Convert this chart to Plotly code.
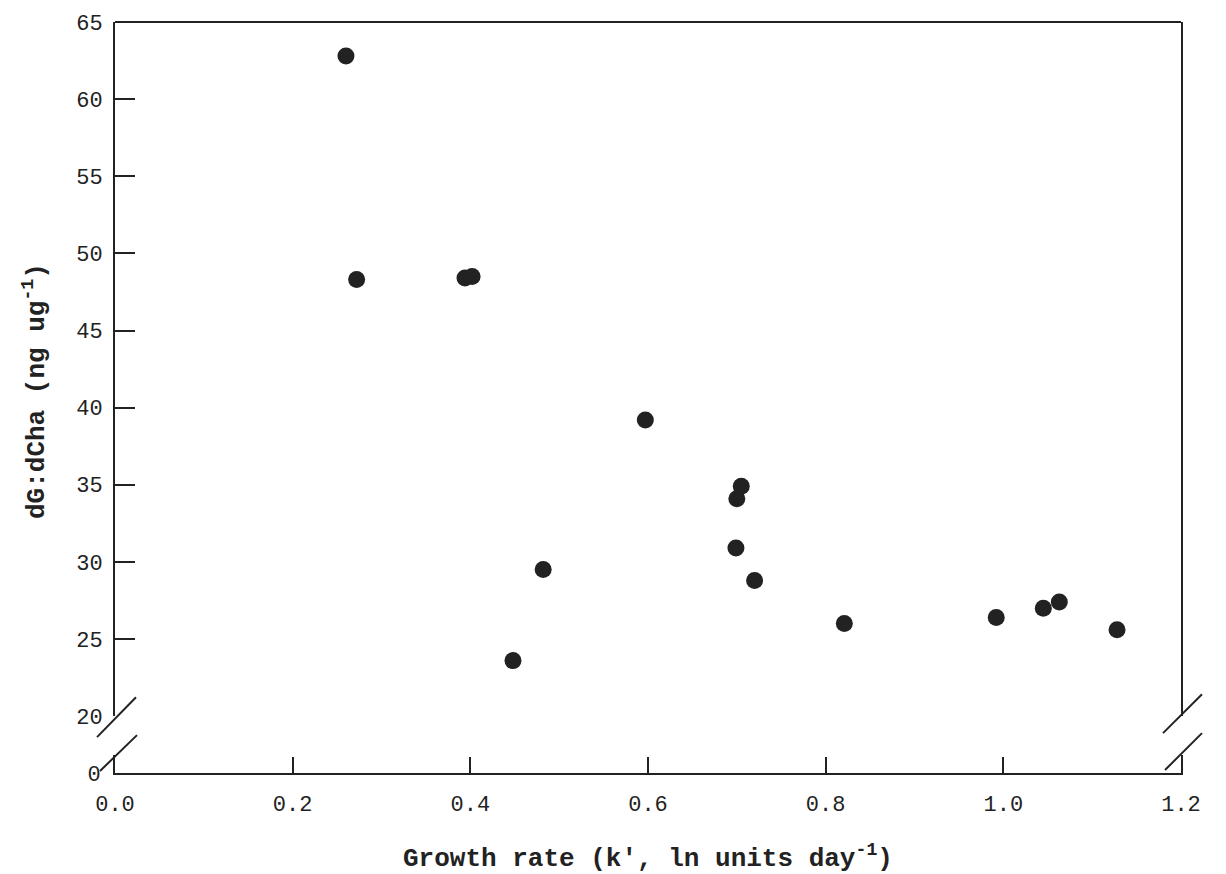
import plotly.graph_objects as go

# Data
growth_rate = [0.260, 0.272, 0.394, 0.402, 0.448, 0.482, 0.597, 0.700, 0.705,
               0.699, 0.720, 0.821, 0.992, 1.045, 1.063, 1.128]
dg_dcha = [62.8, 48.3, 48.4, 48.5, 23.6, 29.5, 39.2, 34.1, 34.9,
           30.9, 28.8, 26.0, 26.4, 27.0, 27.4, 25.6]

x_ticks = [0.0, 0.2, 0.4, 0.6, 0.8, 1.0, 1.2]
y_ticks = [20, 25, 30, 35, 40, 45, 50, 55, 60, 65]
y_ticks_marked = [25, 30, 35, 40, 45, 50, 55, 60]

W, H = 1226, 874
L, R, T, B = 115, 1181, 20, 773  # plot area in pixels
pw, ph = R - L, B - T


def px(xp):
    return (xp - L) / pw


def py(yp):
    return (B - yp) / ph


INK = "#222222"
FONT = "Liberation Mono"

upper_bottom = py(716)
lower_top = py(755)

fig = go.Figure()
fig.add_trace(go.Scatter(
    x=growth_rate, y=dg_dcha, mode="markers",
    marker=dict(size=17, color=INK),
    xaxis="x", yaxis="y", showlegend=False, cliponaxis=False,
))

fig.update_layout(
    width=W, height=H,
    margin=dict(l=L, r=W - R, t=T, b=H - B),
    paper_bgcolor="white", plot_bgcolor="white",
    font=dict(family=FONT, color=INK, size=22),
    xaxis=dict(
        range=[0, 1.2], anchor="y2", tickvals=x_ticks,
        ticktext=[f"{v:.1f}" for v in x_ticks],
        ticks="inside", ticklen=16, tickwidth=2, tickcolor=INK,
        showline=True, linewidth=2, linecolor=INK,
        showgrid=False, zeroline=False, ticklabelstandoff=10,
        tickfont=dict(family=FONT, size=22, color=INK),
    ),
    yaxis=dict(
        domain=[upper_bottom, 1], range=[20, 65], anchor="x",
        tickvals=y_ticks, ticktext=[str(v) for v in y_ticks],
        ticks="inside", ticklen=0, showline=True, mirror=True,
        linewidth=2, linecolor=INK, showgrid=False, zeroline=False,
        ticklabelstandoff=6,
        tickfont=dict(family=FONT, size=22, color=INK),
    ),
    yaxis3=dict(
        overlaying="y", range=[20, 65], anchor="x",
        tickvals=y_ticks_marked, ticks="inside", ticklen=20, tickwidth=2,
        tickcolor=INK, showticklabels=False, showline=False,
        showgrid=False, zeroline=False,
    ),
    yaxis2=dict(
        domain=[0, lower_top], range=[0, 1], anchor="x",
        tickvals=[0], ticktext=["0"], ticks="", showline=True, mirror=True,
        linewidth=2, linecolor=INK, showgrid=False, zeroline=False,
        ticklabelstandoff=8,
        tickfont=dict(family=FONT, size=22, color=INK),
    ),
)

# Overlay trace to activate yaxis3 (no visible marks)
fig.add_trace(go.Scatter(x=[None], y=[None], xaxis="x", yaxis="y3",
                         showlegend=False, hoverinfo="skip"))
# dummy to activate yaxis2
fig.add_trace(go.Scatter(x=[None], y=[None], xaxis="x", yaxis="y2",
                         showlegend=False, hoverinfo="skip"))

line_style = dict(color=INK, width=2)
shapes = [
    # top frame line
    dict(type="line", xref="paper", yref="paper", x0=0, x1=1, y0=1, y1=1, line=line_style),
    # axis break marks (left)
    dict(type="line", xref="paper", yref="paper", x0=px(97), y0=py(737), x1=px(136), y1=py(697), line=line_style),
    dict(type="line", xref="paper", yref="paper", x0=px(100), y0=py(771), x1=px(137), y1=py(735), line=line_style),
    # axis break marks (right)
    dict(type="line", xref="paper", yref="paper", x0=px(1163), y0=py(733), x1=px(1202), y1=py(694), line=line_style),
    dict(type="line", xref="paper", yref="paper", x0=px(1165), y0=py(770), x1=px(1202), y1=py(733), line=line_style),
]
fig.update_layout(shapes=shapes)

fig.add_annotation(
    xref="paper", yref="paper", x=px(648), y=py(857),
    text="<b>Growth rate (k', ln units day<sup>-1</sup>)</b>",
    showarrow=False, font=dict(family=FONT, size=26, color=INK),
    xanchor="center", yanchor="middle",
)
fig.add_annotation(
    xref="paper", yref="paper", x=px(35), y=py(390),
    text="<b>dG:dCha (ng ug<sup>-1</sup>)</b>", textangle=-90,
    showarrow=False, font=dict(family=FONT, size=26, color=INK),
    xanchor="center", yanchor="middle",
)

fig.write_html("out.html")
